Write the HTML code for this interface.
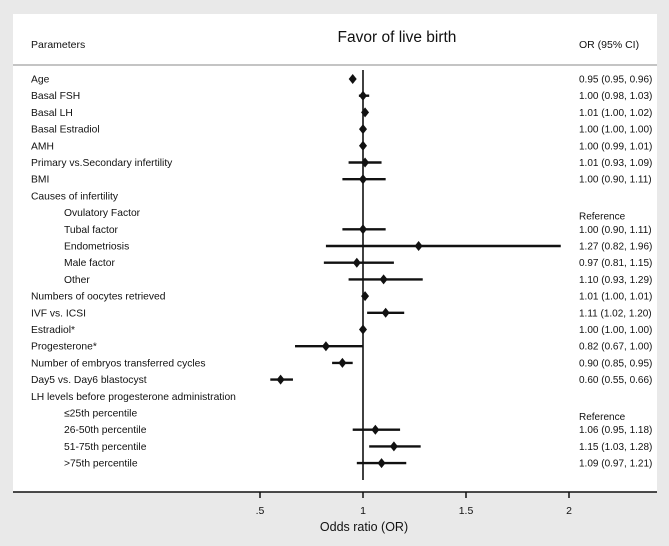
<!DOCTYPE html>
<html><head><meta charset="utf-8"><style>
body{margin:0;width:669px;height:546px;background:#e9e9e9;font-family:"Liberation Sans",sans-serif;overflow:hidden}
svg{display:block}
text{fill:#111}
</style></head><body>
<svg width="669" height="546" id="chart">
<rect x="13" y="14" width="644" height="478" fill="#fff"/>
<line x1="13" y1="65" x2="657" y2="65" stroke="#c4c4c4" stroke-width="2"/>
<text x="31" y="48" font-size="10.5">Parameters</text>
<text x="397" y="42" font-size="15.5" text-anchor="middle">Favor of live birth</text>
<text x="579" y="48" font-size="10.5">OR (95% CI)</text>
<line x1="13" y1="492" x2="657" y2="492" stroke="#111" stroke-width="1.5"/>
<text x="364" y="531" font-size="12.5" text-anchor="middle">Odds ratio (OR)</text>
<g id="ticks"></g>
<g id="rows"></g>
</svg>
<script>
const labels=["Age","Basal FSH","Basal LH","Basal Estradiol","AMH","Primary vs.Secondary infertility","BMI","Causes of infertility","Ovulatory Factor","Tubal factor","Endometriosis","Male factor","Other","Numbers of oocytes retrieved","IVF vs. ICSI","Estradiol*","Progesterone*","Number of embryos transferred cycles","Day5 vs. Day6 blastocyst","LH levels before progesterone administration","≤25th percentile","26-50th percentile","51-75th percentile",">75th percentile"];
const indented=[0,0,0,0,0,0,0,0,1,1,1,1,1,0,0,0,0,0,0,0,1,1,1,1];
const orValues=[0.95,1.00,1.01,1.00,1.00,1.01,1.00,null,null,1.00,1.27,0.97,1.10,1.01,1.11,1.00,0.82,0.90,0.60,null,null,1.06,1.15,1.09];
const ciLow=[0.95,0.98,1.00,1.00,0.99,0.93,0.90,null,null,0.90,0.82,0.81,0.93,1.00,1.02,1.00,0.67,0.85,0.55,null,null,0.95,1.03,0.97];
const ciHigh=[0.96,1.03,1.02,1.00,1.01,1.09,1.11,null,null,1.11,1.96,1.15,1.29,1.01,1.20,1.00,1.00,0.95,0.66,null,null,1.18,1.28,1.21];
const refRows=[8,20];
const tickValues=[0.5,1,1.5,2];
const tickLabels=[".5","1","1.5","2"];
const NS="http://www.w3.org/2000/svg";
function xScale(v){return 363+(v-1)*206;}
function yScale(i){return 79+i*16.7;}
function mk(tag,attrs,parent){const e=document.createElementNS(NS,tag);for(const k in attrs)e.setAttribute(k,attrs[k]);parent.appendChild(e);return e;}
const tg=document.getElementById('ticks');
tickValues.forEach((v,i)=>{
  const l=mk('line',{x1:xScale(v),x2:xScale(v),y1:492,y2:498,stroke:'#111','stroke-width':1.5},tg);
  
  
  const t=mk('text',{x:xScale(v),y:514,'font-size':10.5,'text-anchor':'middle'},tg);
  t.textContent=tickLabels[i];
  
  
});
const rg=document.getElementById('rows');
const ref=mk('line',{x1:xScale(1),x2:xScale(1),y1:70,y2:480,stroke:'#111','stroke-width':1.6},rg);


labels.forEach((lab,i)=>{
  const y=yScale(i);
  const t=mk('text',{x:indented[i]?64:31,y:y+3.5,'font-size':10.3},rg);
  t.textContent=lab;
  
  
  if(orValues[i]!==null){
    const ci=mk('line',{x1:xScale(ciLow[i]),x2:xScale(ciHigh[i]),y1:y,y2:y,stroke:'#111','stroke-width':2.4},rg);
    
    
    const cx=xScale(orValues[i]);
    const d=mk('polygon',{points:`${cx-4},${y} ${cx},${y-5} ${cx+4},${y} ${cx},${y+5}`,fill:'#111'},rg);
    
    
    const v=mk('text',{x:579,y:y+3.5,'font-size':10},rg);
    v.textContent=orValues[i].toFixed(2)+' ('+ciLow[i].toFixed(2)+', '+ciHigh[i].toFixed(2)+')';
    
    
  } else if(refRows.includes(i)){
    const v=mk('text',{x:579,y:y+7,'font-size':10},rg);
    v.textContent='Reference';
    
    
  }
});
</script>
</body></html>
